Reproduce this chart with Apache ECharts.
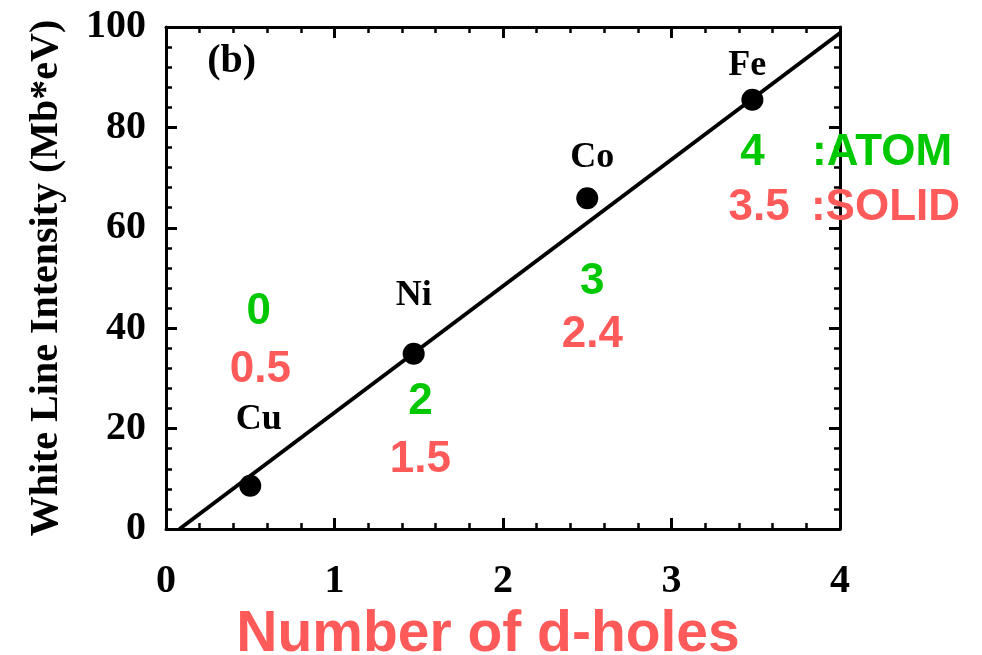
<!DOCTYPE html>
<html>
<head>
<meta charset="utf-8">
<script src="https://cdn.jsdelivr.net/npm/echarts@6/dist/echarts.min.js"></script>
<style>
  html, body { margin: 0; padding: 0; background: #fff; }
  #chart { width: 982px; height: 655px; }
</style>
</head>
<body>
<div id="chart"></div>
<script>
// Measured white-line intensities for the 3d metals
const elements = ['Cu', 'Ni', 'Co', 'Fe'];
const dHoles = [0.5, 1.47, 2.5, 3.48];
const intensity = [8.6, 34.9, 65.9, 85.5];

// Linear fit through the data
const fitLine = [[0.08, 0], [4, 98.8]];

// Element name label positions (data units)
const nameLabelPos = [[0.55, 21.7], [1.47, 46.4], [2.53, 73.9], [3.45, 92.2]];

// d-hole counts: atomic (green) and solid-state (red)
const atomHoles = ['0', '2', '3', '4'];
const atomLabelPos = [[0.55, 43.2], [1.51, 25.3], [2.53, 49.2], [3.48, 74.9]];
const solidHoles = ['0.5', '1.5', '2.4', '3.5'];
const solidLabelPos = [[0.56, 31.7], [1.51, 13.7], [2.53, 38.6], [3.52, 63.9]];

// Suffix texts next to the Fe entries
const atomSuffix = { text: ':ATOM', pos: [4.25, 74.9] };
const solidSuffix = { text: ':SOLID', pos: [4.27, 63.9] };

const xTicks = ['0', '1', '2', '3', '4'];
const yTicks = ['0', '20', '40', '60', '80', '100'];

const GREEN = '#00c800';
const RED = '#ff5a5a';
const serif = 'Liberation Serif';
const sans = 'Liberation Sans';

function textSeries(points, texts, color, size, family) {
  return {
    type: 'scatter',
    symbolSize: 0,
    clip: false,
    silent: true,
    z: 5,
    itemStyle: { opacity: 1 },
    data: points.map((p, i) => ({ value: p, name: texts[i] })),
    label: {
      show: true,
      position: 'inside',
      formatter: (p) => p.name,
      color: color,
      opacity: 1,
      fontSize: size,
      fontWeight: 'bold',
      fontFamily: family
    }
  };
}

const axisCommon = {
  min: 0,
  axisLine: { show: true, onZero: false, lineStyle: { color: '#000', width: 3 } },
  axisTick: { show: true, inside: true, length: 11, lineStyle: { color: '#000', width: 3 } },
  minorTick: { show: true, splitNumber: 5, length: 6, lineStyle: { color: '#000', width: 2.5 } },
  splitLine: { show: false }
};

const chart = echarts.init(document.getElementById('chart'), null, { renderer: 'canvas' });

chart.setOption({
  animation: false,
  backgroundColor: '#fff',
  grid: { left: 166, right: 142, top: 27, bottom: 126, containLabel: false, outerBoundsMode: 'none' },
  xAxis: [
    Object.assign({}, axisCommon, {
      type: 'value', max: 4, interval: 1, position: 'bottom',
      axisLabel: {
        color: '#000', fontSize: 40, fontWeight: 'bold', fontFamily: serif, margin: 33,
        formatter: (v) => xTicks[Math.round(v)]
      },
      name: 'Number of d-holes',
      nameLocation: 'middle',
      nameGap: 72,
      nameTextStyle: { color: RED, fontSize: 57, fontWeight: 'bold', fontFamily: sans, padding: [0, 0, 0, -30] }
    }),
    Object.assign({}, axisCommon, {
      type: 'value', max: 4, interval: 1, position: 'top',
      axisLabel: { show: false }
    })
  ],
  yAxis: [
    Object.assign({}, axisCommon, {
      type: 'value', max: 100, interval: 20, position: 'left',
      axisLabel: {
        color: '#000', fontSize: 40, fontWeight: 'bold', fontFamily: serif, margin: 20,
        formatter: (v) => yTicks[Math.round(v / 20)]
      },
      name: 'White Line Intensity (Mb*eV)',
      nameLocation: 'middle',
      nameGap: 99,
      nameRotate: 90,
      nameTextStyle: { color: '#000', fontSize: 40, fontWeight: 'bold', fontFamily: serif, padding: 0 }
    }),
    Object.assign({}, axisCommon, {
      type: 'value', max: 100, interval: 20, position: 'right',
      axisLabel: { show: false }
    })
  ],
  series: [
    {
      type: 'line',
      data: fitLine,
      symbol: 'none',
      lineStyle: { color: '#000', width: 4 },
      z: 3
    },
    {
      type: 'scatter',
      data: dHoles.map((x, i) => [x, intensity[i]]),
      symbol: 'circle',
      symbolSize: 22,
      itemStyle: { color: '#000', opacity: 1 },
      z: 4
    },
    textSeries(nameLabelPos, elements, '#000', 36, serif),
    textSeries(atomLabelPos, atomHoles, GREEN, 44, sans),
    textSeries(solidLabelPos, solidHoles, RED, 44, sans),
    textSeries([atomSuffix.pos], [atomSuffix.text], GREEN, 44, sans),
    textSeries([solidSuffix.pos], [solidSuffix.text], RED, 44, sans),
    textSeries([[0.39, 93.0]], ['(b)'], '#000', 40, serif)
  ]
});
</script>
</body>
</html>
